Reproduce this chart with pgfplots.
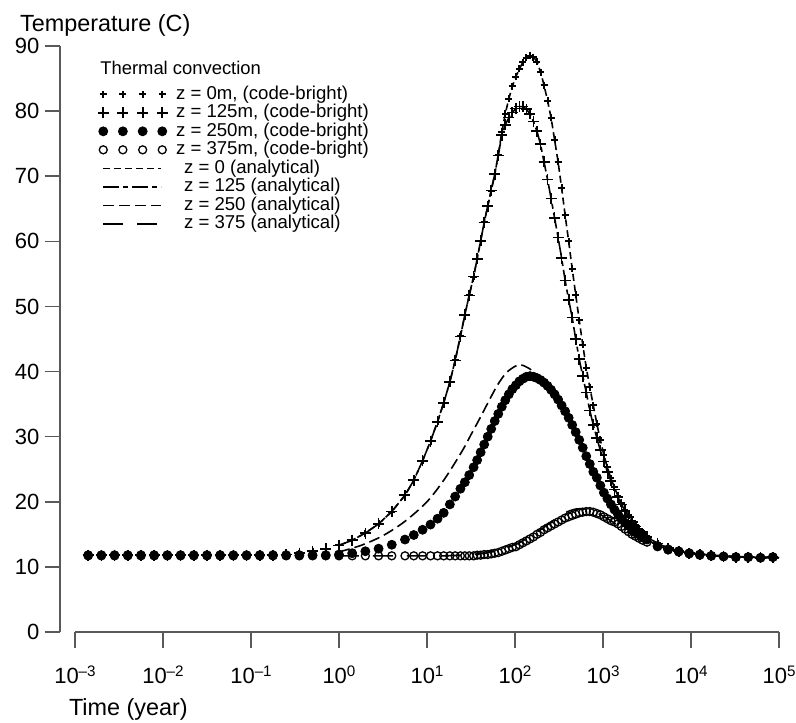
\documentclass[border=0pt]{standalone}
\usepackage{fontspec}
\setmainfont{Liberation Sans}
\usepackage{pgfplots}
\usepackage{pgfplotstable}
\pgfplotsset{compat=1.18}

% 10^k tick label in the text font
\newcommand\pw[1]{10\raisebox{0.33em}{\fontsize{7.6}{8}\selectfont #1}}

% code-bright results, lt = log10(time in years)
\pgfplotstableread{
lt z0 z125 z250 z375
-2.85 11.8 11.8 11.8 11.7
-2.70 11.8 11.8 11.8 11.7
-2.55 11.8 11.8 11.8 11.7
-2.40 11.8 11.8 11.8 11.7
-2.25 11.8 11.8 11.8 11.7
-2.10 11.8 11.8 11.8 11.7
-1.95 11.8 11.8 11.8 11.7
-1.80 11.8 11.8 11.8 11.7
-1.65 11.8 11.8 11.8 11.7
-1.50 11.8 11.8 11.8 11.7
-1.35 11.8 11.8 11.8 11.7
-1.20 11.8 11.8 11.8 11.7
-1.05 11.8 11.8 11.8 11.7
-0.90 11.8 11.8 11.8 11.7
-0.75 11.8 11.8 11.8 11.7
-0.60 11.9 11.9 11.8 11.7
-0.45 12.1 12.1 11.8 11.7
-0.30 12.4 12.4 11.8 11.7
-0.15 12.8 12.8 11.8 11.7
0.00 13.3 13.3 11.9 11.7
0.15 14.1 14.1 12.1 11.7
0.30 15.2 15.2 12.4 11.7
0.45 16.6 16.6 12.8 11.7
0.60 18.5 18.5 13.4 11.7
0.75 21.0 21.0 14.2 11.7
0.85 23.3 23.3 14.9 11.7
0.95 26.3 26.3 15.7 11.7
1.04 29.3 29.3 16.5 11.7
1.12 32.3 32.3 17.4 11.7
1.19 35.2 35.2 18.3 11.7
1.26 38.4 38.4 19.6 11.7
1.32 41.7 41.7 20.8 11.7
1.38 45.4 45.4 22.0 11.7
1.43 48.7 48.7 23.0 11.7
1.48 51.7 51.7 24.1 11.7
1.53 54.6 54.6 25.3 11.7
1.57 57.3 57.3 26.4 11.8
1.61 60.1 60.1 27.6 11.8
1.65 62.9 62.9 28.8 11.9
1.69 65.4 65.4 30.0 11.9
1.73 67.8 67.8 31.2 12.0
1.77 70.3 70.3 32.4 12.1
1.81 73.3 73.2 33.5 12.2
1.85 76.8 76.3 34.6 12.4
1.89 79.6 77.9 35.6 12.6
1.93 81.9 79.0 36.5 12.8
1.97 83.8 79.8 37.3 13.0
2.01 85.3 80.4 37.9 13.1
2.05 86.5 80.7 38.5 13.4
2.09 87.5 80.7 38.9 13.7
2.13 88.2 80.3 39.2 14.0
2.17 88.5 79.6 39.3 14.3
2.21 88.3 78.4 39.2 14.6
2.25 87.6 76.9 39.0 15.0
2.29 86.0 74.9 38.7 15.3
2.33 84.0 72.2 38.3 15.7
2.37 81.6 69.5 37.8 16.0
2.41 79.0 66.6 37.2 16.3
2.45 75.6 63.6 36.5 16.6
2.49 72.2 60.6 35.7 16.9
2.53 68.2 57.4 34.8 17.2
2.57 64.0 54.0 33.9 17.5
2.61 60.0 51.0 32.9 17.7
2.65 55.8 48.3 31.8 17.9
2.69 51.8 45.0 30.7 18.1
2.73 47.9 41.9 29.5 18.3
2.77 44.1 39.3 28.3 18.4
2.81 40.6 36.8 27.0 18.5
2.85 37.6 34.0 25.8 18.5
2.89 34.8 31.8 24.6 18.4
2.93 32.0 29.8 23.7 18.2
2.97 29.5 27.9 22.5 18.0
3.01 27.2 26.2 21.4 17.7
3.05 25.3 24.6 20.5 17.4
3.09 23.6 23.2 19.6 17.1
3.13 22.2 21.9 18.8 16.9
3.17 20.9 20.7 18.1 16.6
3.21 19.8 19.6 17.4 16.2
3.25 18.8 18.6 16.8 15.8
3.29 17.9 17.7 16.3 15.4
3.33 17.1 16.9 15.8 15.0
3.37 16.4 16.2 15.4 14.7
3.41 15.8 15.6 15.0 14.4
3.45 15.3 15.1 14.6 14.1
3.50 14.7 14.6 14.2 13.8
3.62 13.6 13.6 13.2 13.1
3.74 12.9 12.9 12.7 12.6
3.86 12.4 12.4 12.4 12.3
3.98 12.1 12.1 12.1 12.0
4.10 11.9 11.9 11.9 11.8
4.23 11.7 11.7 11.7 11.7
4.37 11.6 11.6 11.6 11.6
4.51 11.5 11.5 11.5 11.5
4.65 11.5 11.5 11.5 11.5
4.79 11.4 11.4 11.4 11.4
4.93 11.5 11.5 11.5 11.5
}\cbdata

% analytical solution, z = 250 and z = 375
\pgfplotstableread{
lt z250 z375
0.00 12.3 11.7
0.25 13.3 11.7
0.50 14.8 11.7
0.75 17.0 11.7
1.00 20.0 11.7
1.20 23.5 11.7
1.40 27.8 11.8
1.50 30.3 11.9
1.60 32.8 12.0
1.70 35.4 12.2
1.80 37.9 12.5
1.90 39.8 12.9
2.00 40.8 13.4
2.05 41.0 13.7
2.10 40.9 14.1
2.20 40.1 14.9
2.30 38.6 15.8
2.40 37.0 16.8
2.50 35.2 17.7
2.60 33.0 18.5
2.70 30.5 18.9
2.80 27.5 18.9
2.90 24.5 18.5
3.00 21.8 17.8
3.10 19.4 17.0
3.20 17.4 16.1
3.30 15.9 15.2
3.40 14.8 14.4
3.50 14.1 13.8
3.70 13.0 12.9
4.00 12.1 12.1
4.50 11.6 11.6
5.00 11.4 11.4
}\andata

\pgfplotsset{
  marklegend/.style={legend image code/.code={
    \draw[##1] plot coordinates {(0pt,0pt) (9.8pt,0pt) (19.7pt,0pt) (29.5pt,0pt)};}},
  linelegend/.style={legend image code/.code={
    \path (-2.75pt,0pt) (32.25pt,0pt);
    \draw[##1] (0pt,0pt) -- (29pt,0pt);}},
}

\begin{document}
\begin{tikzpicture}
% page frame: the axis box's lower left corner is at (0,0)
\useasboundingbox (-30pt,-45pt) rectangle (368pt,316pt);
\begin{axis}[
  scale only axis,
  width=359.5pt, height=293pt,
  xmin=-3.17, xmax=5, ymin=0, ymax=90,
  axis x line*=bottom, axis y line*=left,
  x axis line style={draw=none},
  y axis line style={draw=black!65, line width=0.75pt, -},
  tick align=outside,
  major tick length=7.75pt,
  tick style={draw=black!65, line width=0.75pt},
  minor tick num=0,
  xtick={-3,-2,-1,0,1,2,3,4,5},
  xticklabels={\pw{\textendash 3},\pw{\textendash 2},\pw{\textendash 1},\pw{0},\pw{1},\pw{2},\pw{3},\pw{4},\pw{5}},
  ytick={0,10,20,30,40,50,60,70,80,90},
  /pgf/number format/assume math mode=true,
  tick label style={font=\fontsize{11}{13}\selectfont},
  xticklabel style={yshift=-5.5pt},
  yticklabel style={xshift=1pt},
  xlabel={Time (year)},
  ylabel={Temperature (C)},
  every axis x label/.style={at={(rel axis cs:0,0)}, anchor=base west,
    xshift=1pt, yshift=-41.5pt, font=\fontsize{11.7}{14}\selectfont},
  every axis y label/.style={at={(rel axis cs:0,1)}, anchor=base west,
    xshift=-23.5pt, yshift=7.5pt, font=\fontsize{11.7}{14}\selectfont},
  clip=false,
  legend style={draw=none, fill=none, at={(axis cs:-2.75,84)}, anchor=north west,
    inner sep=0pt, outer sep=0pt, row sep=0pt, column sep=3.75pt,
    font=\fontsize{9.3}{11}\selectfont,
    nodes={inner sep=0pt, text height=7pt, text depth=2.25pt},
    cells={anchor=west}},
]

\addplot[only marks, mark=+, mark size=1.75pt, mark options={line width=1pt}, marklegend]
  table[x=lt, y=z0] {\cbdata};
\addlegendentry{z = 0m, (code-bright)}

\addplot[only marks, mark=+, mark size=2.75pt, mark options={line width=0.85pt}, marklegend]
  table[x=lt, y=z125] {\cbdata};
\addlegendentry{z = 125m, (code-bright)}

\addplot[only marks, mark=*, mark size=2.25pt, mark options={fill=black}, marklegend]
  table[x=lt, y=z250] {\cbdata};
\addlegendentry{z = 250m, (code-bright)}

\addplot[only marks, mark=o, mark size=2pt, mark options={line width=0.65pt}, marklegend]
  table[x=lt, y=z375] {\cbdata};
\addlegendentry{z = 375m, (code-bright)}

\addplot[black, line width=0.8pt, dash pattern=on 3.5pt off 2pt,
  restrict x to domain=-0.05:5, linelegend]
  table[x=lt, y=z0] {\cbdata};
\addlegendentry{\hspace{4pt}z = 0 (analytical)}

\addplot[black, line width=0.8pt, dash pattern=on 8pt off 2pt on 2.5pt off 2pt,
  restrict x to domain=-0.05:5, linelegend]
  table[x=lt, y=z125] {\cbdata};
\addlegendentry{\hspace{4pt}z = 125 (analytical)}

\addplot[black, line width=0.8pt, smooth, dash pattern=on 5.5pt off 2.5pt, linelegend]
  table[x=lt, y=z250] {\andata};
\addlegendentry{\hspace{4pt}z = 250 (analytical)}

\addplot[black, line width=0.8pt, smooth, dash pattern=on 10pt off 7pt, linelegend]
  table[x=lt, y=z375] {\andata};
\addlegendentry{\hspace{4pt}z = 375 (analytical)}

\draw[black!65, line width=0.75pt] (axis cs:-3,0) -- (axis cs:5,0);
\node[anchor=base west, inner sep=0pt, font=\fontsize{9.2}{11}\selectfont] at (axis cs:-2.716,85.56) {Thermal convection};

\end{axis}
\end{tikzpicture}
\end{document}
